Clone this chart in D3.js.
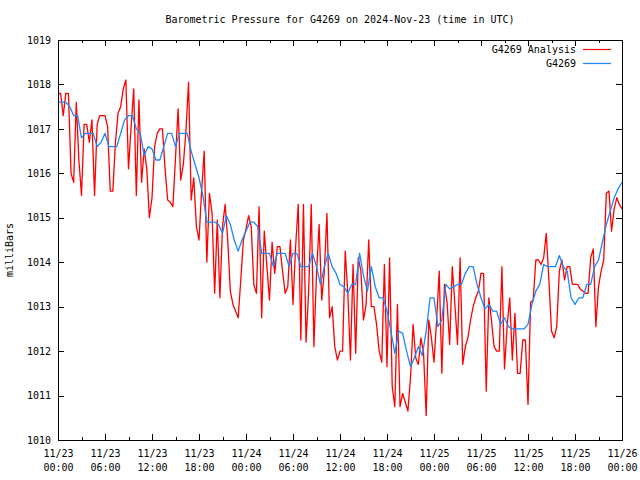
<!DOCTYPE html>
<html>
<head>
<meta charset="utf-8">
<script src="https://cdn.jsdelivr.net/npm/d3@7"></script>
<style>
body { margin: 0; background: #fff; }
text { font-family: "DejaVu Sans Mono", monospace; font-size: 10px; fill: #000; }
.tick line { stroke: #000; shape-rendering: crispEdges; }
.domain { display: none; }
</style>
</head>
<body>
<div id="chart"></div>
<script>
// Data
var title = "Barometric Pressure for G4269 on 2024-Nov-23 (time in UTC)";
var yLabel = "milliBars";
var seriesNames = ["G4269 Analysis", "G4269"];
var seriesColors = ["#ff0000", "#1a88ff"];
var startTime = "2024-11-23T00:00:00Z", endTime = "2024-11-26T00:00:00Z";
var analysisStepMin = 20, stationStepMin = 30;
var yTicks = [1010, 1011, 1012, 1013, 1014, 1015, 1016, 1017, 1018, 1019];

// G4269 Analysis, every 20 minutes
var analysis = [
1017.8,1017.8,1017.3,1017.8,1017.8,1016.0,1015.8,1017.6,1016.3,1015.5,
1017.1,1017.1,1016.7,1017.2,1015.5,1017.1,1017.3,1017.3,1017.3,1017.05,
1015.6,1015.6,1016.7,1017.35,1017.5,1017.9,1018.1,1016.1,1017.05,1017.9,
1015.5,1017.65,1015.8,1016.55,1016.1,1015.0,1015.45,1016.6,1016.9,1017.0,
1017.0,1016.1,1015.4,1015.35,1015.25,1016.35,1017.45,1015.85,1016.2,1016.95,
1018.05,1015.4,1015.9,1014.8,1014.5,1015.6,1016.5,1014.0,1015.55,1015.1,
1013.3,1014.95,1013.2,1014.8,1015.3,1014.5,1013.35,1013.05,1012.9,1012.75,
1013.6,1014.5,1014.75,1015.05,1014.8,1013.5,1013.3,1015.25,1012.75,1014.7,
1013.9,1013.15,1014.45,1013.75,1014.35,1014.35,1013.8,1013.3,1013.45,1014.5,
1013.05,1014.35,1015.3,1012.25,1015.3,1012.2,1013.35,1015.3,1012.1,1013.75,
1014.85,1013.15,1013.8,1015.1,1012.75,1013.0,1012.1,1011.8,1012.0,1012.0,
1014.25,1013.3,1011.8,1013.95,1011.95,1014.1,1013.8,1012.7,1013.05,1014.5,
1013.0,1013.0,1012.6,1012.0,1011.75,1013.95,1011.65,1014.1,1011.2,1010.75,
1013.05,1010.75,1011.05,1010.85,1010.65,1011.4,1012.6,1011.85,1011.7,1012.3,
1011.95,1010.55,1012.7,1012.3,1011.75,1012.7,1013.8,1011.5,1013.5,1013.1,
1012.15,1013.9,1013.05,1012.15,1014.1,1011.7,1012.1,1012.3,1012.7,1013.0,
1013.2,1013.35,1013.75,1013.75,1011.1,1013.2,1012.7,1012.1,1012.0,1012.0,
1013.9,1011.6,1012.55,1013.2,1011.8,1012.85,1011.5,1011.5,1012.25,1012.25,
1010.8,1013.1,1013.15,1014.05,1014.05,1013.95,1014.1,1014.65,1013.6,1012.45,
1012.3,1012.55,1013.8,1014.05,1013.6,1013.9,1013.9,1013.5,1013.5,1013.5,
1013.4,1013.35,1013.3,1013.3,1014.1,1014.3,1012.55,1013.45,1013.8,1014.05,
1015.55,1015.6,1014.7,1015.2,1015.45,1015.3,1015.2
];

// G4269 station, every 30 minutes
var station = [
1017.6,1017.6,1017.6,1017.5,1017.3,1017.3,1016.8,1016.9,1016.9,1016.9,
1016.6,1016.7,1016.9,1016.6,1016.6,1016.6,1016.9,1017.2,1017.3,1017.3,
1017.0,1016.9,1016.4,1016.6,1016.55,1016.3,1016.3,1016.6,1016.9,1016.9,
1016.6,1016.9,1016.9,1016.9,1016.5,1016.2,1015.9,1015.5,1014.9,1014.9,
1014.9,1014.85,1014.65,1015.05,1014.85,1014.5,1014.25,1014.5,1014.7,1014.9,
1014.9,1014.8,1014.2,1014.2,1014.2,1013.9,1014.2,1014.2,1014.2,1013.9,
1014.2,1014.2,1013.9,1013.9,1013.9,1014.2,1013.9,1013.5,1013.9,1014.2,
1013.9,1013.75,1013.5,1013.45,1013.3,1013.5,1013.5,1014.2,1013.7,1013.35,
1013.9,1013.45,1013.2,1013.2,1012.9,1012.45,1011.95,1012.45,1012.4,1012.0,
1011.65,1011.85,1012.1,1011.9,1012.45,1013.2,1013.2,1012.55,1012.7,1013.5,
1013.4,1013.45,1013.5,1013.5,1013.75,1013.9,1013.9,1013.5,1013.2,1012.95,
1013.05,1012.9,1012.9,1012.6,1012.75,1012.55,1012.5,1012.5,1012.5,1012.5,
1012.6,1013.05,1013.35,1013.5,1013.95,1013.9,1013.9,1013.9,1014.15,1013.9,
1013.8,1013.2,1013.05,1013.2,1013.2,1013.5,1013.5,1013.9,1014.05,1014.45,
1014.85,1015.15,1015.45,1015.65,1015.8
];

var margin = {top: 40, right: 18, bottom: 40, left: 58};
var width = 640 - margin.left - margin.right,
    height = 480 - margin.top - margin.bottom;

var t0 = new Date(startTime);
function toSeries(values, stepMin) {
    return values.map(function(v, i) {
        return {date: d3.utcMinute.offset(t0, i * stepMin), value: v};
    });
}
var analysisData = toSeries(analysis, analysisStepMin);
var stationData = toSeries(station, stationStepMin);

var svg = d3.select("#chart").append("svg")
    .attr("width", 640)
    .attr("height", 480);

var g = svg.append("g")
    .attr("transform", "translate(" + margin.left + "," + margin.top + ")");

var x = d3.scaleUtc()
    .domain([new Date(startTime), new Date(endTime)])
    .range([0, width]);
var y = d3.scaleLinear()
    .domain([1010, 1019])
    .range([height, 0]);

var majorTicks = d3.utcHour.every(6).range(x.domain()[0], d3.utcHour.offset(x.domain()[1], 1));
var minorTicks = d3.utcHour.every(3).range(x.domain()[0], x.domain()[1]);

// minor x ticks (bottom and top)
g.append("g")
    .attr("transform", "translate(0," + height + ")")
    .call(d3.axisBottom(x).tickValues(minorTicks).tickSize(-3).tickSizeOuter(0).tickFormat(""));
g.append("g")
    .call(d3.axisTop(x).tickValues(minorTicks).tickSize(-3).tickSizeOuter(0).tickFormat(""));

// major x ticks
var xAxis = g.append("g")
    .attr("transform", "translate(0," + height + ")")
    .call(d3.axisBottom(x).tickValues(majorTicks).tickSize(-6).tickSizeOuter(0).tickFormat(""));
g.append("g")
    .call(d3.axisTop(x).tickValues(majorTicks).tickSize(-6).tickSizeOuter(0).tickFormat(""));

var fmtDay = d3.utcFormat("%m/%d"), fmtTime = d3.utcFormat("%H:%M");
xAxis.selectAll(".tick").append("text")
    .attr("text-anchor", "middle")
    .each(function(d) {
        var t = d3.select(this);
        t.append("tspan").attr("x", 0).attr("y", 17).text(fmtDay(d));
        t.append("tspan").attr("x", 0).attr("y", 31).text(fmtTime(d));
    });

// y axis
g.append("g")
    .call(d3.axisLeft(y).tickValues(yTicks).tickSize(-6).tickSizeOuter(0).tickPadding(7).tickFormat(d3.format("d")))
    .selectAll("text").style("font-size", "10px").style("font-family", "DejaVu Sans Mono, monospace");
g.append("g")
    .attr("transform", "translate(" + width + ",0)")
    .call(d3.axisRight(y).tickValues(yTicks).tickSize(-6).tickSizeOuter(0).tickFormat(""));

// lines
var line = d3.line()
    .x(function(d) { return x(d.date); })
    .y(function(d) { return y(d.value); });

g.append("path")
    .datum(analysisData)
    .attr("fill", "none")
    .attr("stroke", seriesColors[0])
    .attr("stroke-width", 1.3)
    .attr("stroke-linejoin", "round")
    .attr("d", line);

g.append("path")
    .datum(stationData)
    .attr("fill", "none")
    .attr("stroke", seriesColors[1])
    .attr("stroke-width", 1.3)
    .attr("stroke-linejoin", "round")
    .attr("d", line);

// border
g.append("rect")
    .attr("x", 0).attr("y", 0)
    .attr("width", width).attr("height", height)
    .attr("fill", "none")
    .attr("stroke", "#000")
    .attr("stroke-width", 1)
    .attr("shape-rendering", "crispEdges");

// title
svg.append("text")
    .attr("x", margin.left + width / 2)
    .attr("y", 23)
    .attr("text-anchor", "middle")
    .text(title);

// y label
svg.append("text")
    .attr("transform", "translate(13," + (margin.top + height / 2 + 10) + ") rotate(-90)")
    .attr("text-anchor", "middle")
    .text(yLabel);

// legend
var legend = svg.append("g")
    .selectAll("g")
    .data(seriesNames)
    .enter().append("g")
    .attr("transform", function(d, i) { return "translate(0," + (49.5 + i * 14) + ")"; });

legend.append("text")
    .attr("x", 576)
    .attr("y", 3.5)
    .attr("text-anchor", "end")
    .text(function(d) { return d; });

legend.append("line")
    .attr("x1", 583).attr("x2", 611)
    .attr("y1", 0).attr("y2", 0)
    .attr("stroke", function(d, i) { return seriesColors[i]; })
    .attr("stroke-width", 1.2);
</script>
</body>
</html>
